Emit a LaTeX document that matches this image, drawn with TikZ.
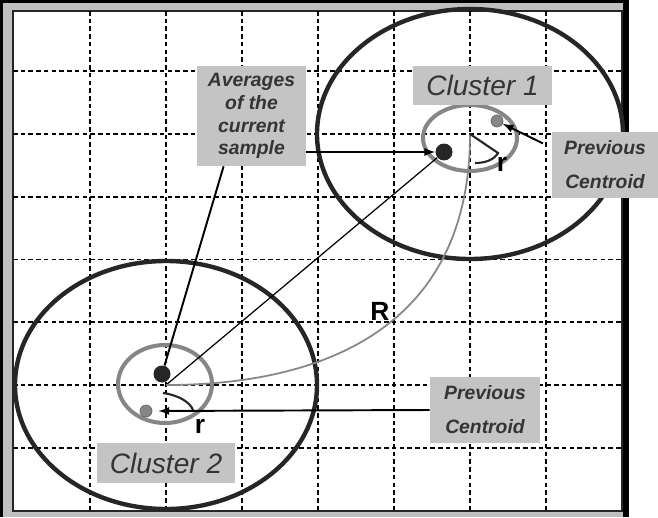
\documentclass[tikz,border=0pt]{standalone}
\usepackage{fontspec}
\setmainfont{Liberation Sans}
\usetikzlibrary{positioning}

\definecolor{boxgray}{HTML}{C4C4C4}
\definecolor{txtgray}{HTML}{343434}
\definecolor{ringgray}{HTML}{868686}
\definecolor{rimdark}{HTML}{262626}

\begin{document}
\begin{tikzpicture}[x=0.02cm,y=-0.02cm,
    gridline/.style={line width=1.1pt,dash pattern=on 2.6pt off 1.8pt},
    rim/.style={rimdark,line width=2.5pt},
    ring/.style={ringgray,line width=2.3pt},
    lbl/.style={fill=boxgray,inner sep=0pt,text=txtgray,align=center},
    note/.style={lbl,font=\fontsize{11}{13}\selectfont\bfseries\itshape},
    prevnote/.style={lbl,font=\fontsize{11}{19.3}\selectfont\bfseries\itshape,minimum height=1.32cm},
    clname/.style={lbl,font=\fontsize{16}{19}\selectfont\itshape},
    radius label/.style={font=\fontsize{15}{17}\selectfont\bfseries},
    mean/.style={circle,fill=rimdark,inner sep=0pt,minimum size=0.34cm},
    oldmean/.style={circle,fill=ringgray,draw=gray!80!black,line width=0.4pt,inner sep=0pt,minimum size=0.24cm},
    pointer/.style={-latex,line width=1.1pt}]
  \useasboundingbox (0,0) rectangle (658,517);
  \fill[white] (0,0) rectangle (658,517);

  % frame
  \fill[black] (0,0) rectangle (629,517);
  \fill[gray!50] (3,3) rectangle (623,517);
  \fill[white] (13,11) rectangle (622,511);
  \draw[rimdark,line width=0.8pt] (13,11) rectangle (622,511);

  % grid
  \foreach \x in {90,166,242,318,394,470,546}
    \draw[gridline] (\x,11) -- (\x,511);
  \foreach \k in {1,...,7}
    \draw[gridline] (13,8+62.875*\k) -- (622,8+62.875*\k);

  % clusters
  \coordinate (c1) at (470,134);
  \coordinate (c2) at (166,385);
  \draw[rim] (c1) ellipse [x radius=153,y radius=125];
  \draw[rim] (c2) ellipse [x radius=151,y radius=124];
  \draw[ring] (470,138) ellipse [x radius=47,y radius=33];
  \draw[ring] (165,384) ellipse [x radius=47,y radius=39];

  \node[mean] (d1) at (444,152) {};
  \node[mean] (d2) at (162,374) {};
  \node[oldmean] (p1) at (497,121) {};
  \node[oldmean] (p2) at (146,411) {};

  % distances
  \draw[line width=0.7pt] (c2) -- (d1);
  \draw[ringgray,line width=1pt] (c2) .. controls (320,385) and (470,330) .. (c1);
  \draw[rimdark,line width=1.2pt] (c1) -- (498,153) .. controls (494,160) and (485,163) .. (475,163);
  \draw[rimdark,line width=1.2pt] (163,393) .. controls (178,395) and (190,402) .. (193,410);
  \node[radius label] (bigr) at (380,311) {R};
  \node[radius label] (r1) at (502,164) {r};
  \node[radius label] (r2) at (200,426) {r};

  % labels
  \node[note,minimum width=2.18cm,minimum height=2cm] (avg) at (251.5,116) {Averages\\of the\\current\\sample};
  \node[clname,minimum width=2.78cm,minimum height=0.78cm] (name1) at (482.5,85.5) {Cluster 1};
  \node[clname,minimum width=2.76cm,minimum height=0.8cm] (name2) at (166,463) {Cluster 2};
  \node[prevnote,minimum width=2.12cm] (prev1) at (605,165) {Previous\\Centroid};
  \node[prevnote,minimum width=2.2cm] (prev2) at (485,410) {Previous\\Centroid};

  % pointers
  \draw[pointer] (avg.east |- d1) -- (d1);
  \draw[line width=1.1pt] (avg.241) -- (d2);
  \draw[pointer,shorten <=5.5pt] (prev1.162) -- (p1);
  \draw[pointer,shorten >=3.5pt] (prev2.west) -- (p2.east);
\end{tikzpicture}
\end{document}
